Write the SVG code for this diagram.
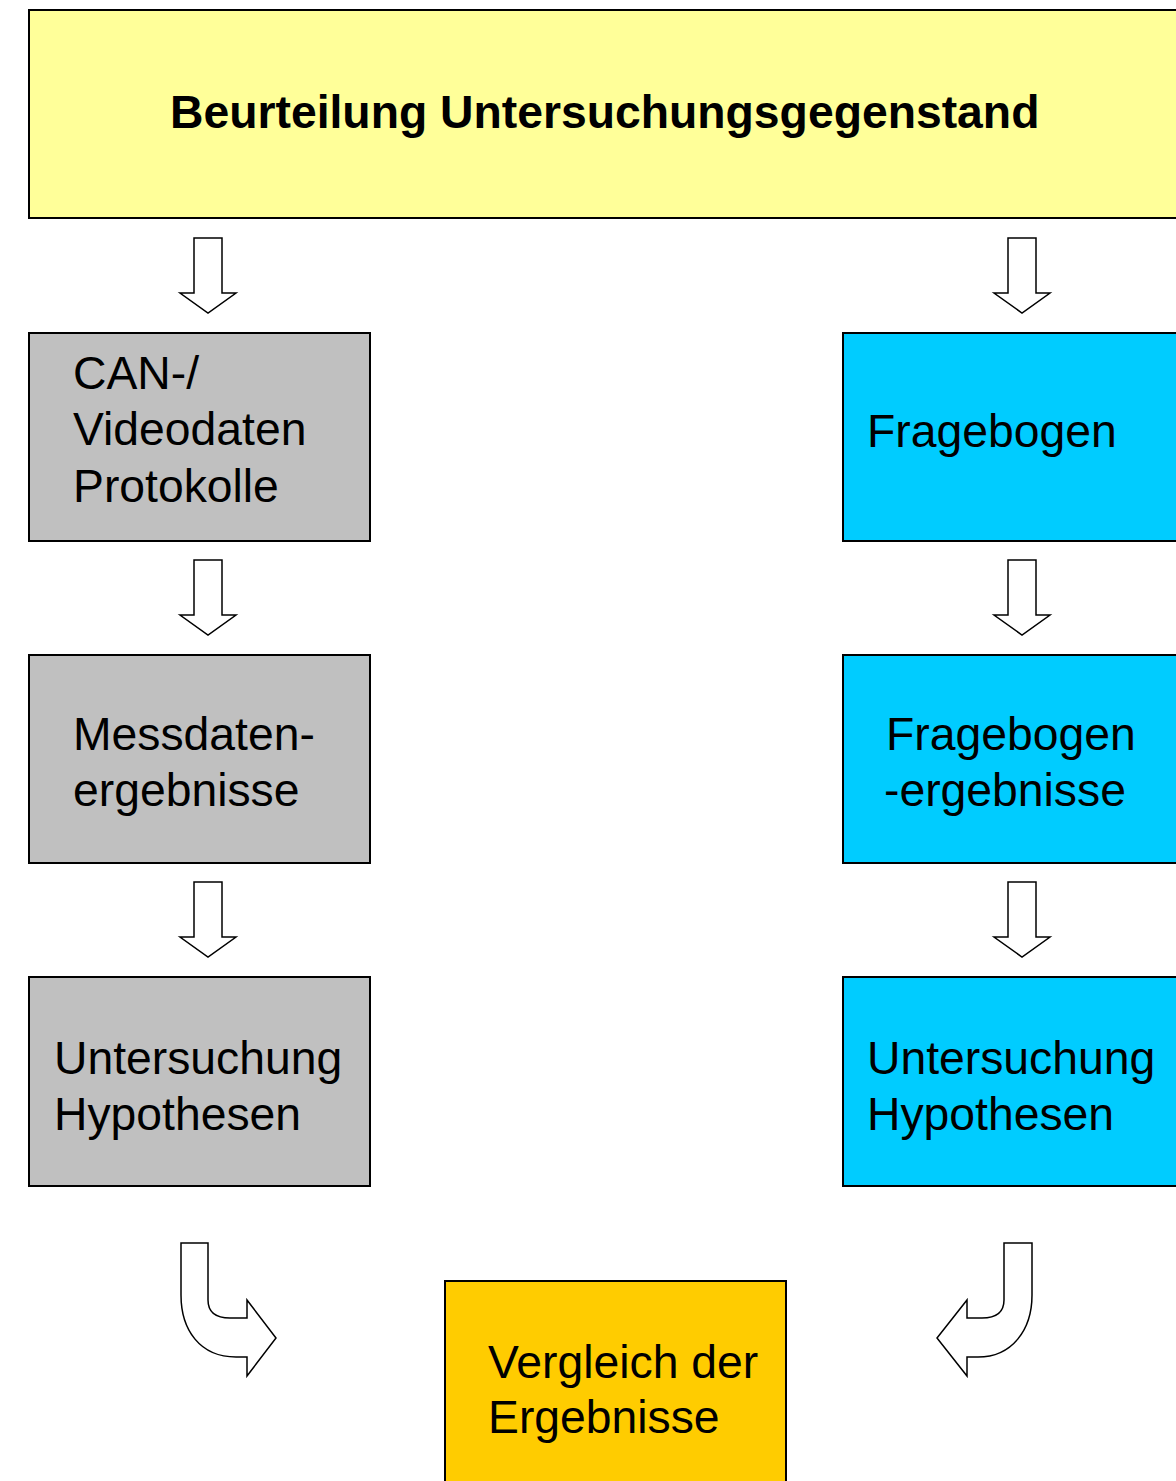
<svg xmlns="http://www.w3.org/2000/svg" width="1176" height="1481" viewBox="0 0 1176 1481">
<style>
.box{stroke:#000;stroke-width:2}
.t{font-family:"Liberation Sans",Arial,sans-serif;font-size:46.3px;fill:#000}
.arr{fill:#fff;stroke:#000;stroke-width:1.5;stroke-linejoin:miter}
</style>
<defs>
<path id="down" class="arr" d="M-14,0 L14,0 L14,55 L28,55 L0,75 L-28,55 L-14,55 Z"/>
</defs>
<rect width="1176" height="1481" fill="#fff"/>
<g id="top">
<rect class="box" x="29" y="10" width="1160" height="208" fill="#FFFF99"/>
<text class="t" x="170" y="128" font-weight="bold" font-size="46.8">Beurteilung Untersuchungsgegenstand</text>
</g>
<g id="can">
<rect class="box" x="29" y="333" width="341" height="208" fill="#C0C0C0"/>
<text class="t" x="73" y="389">CAN-/</text>
<text class="t" x="73" y="445">Videodaten</text>
<text class="t" x="73" y="502">Protokolle</text>
</g>
<g id="frage">
<rect class="box" x="843" y="333" width="340" height="208" fill="#00CCFF"/>
<text class="t" x="867" y="447">Fragebogen</text>
</g>
<g id="mess">
<rect class="box" x="29" y="655" width="341" height="208" fill="#C0C0C0"/>
<text class="t" x="73" y="750">Messdaten-</text>
<text class="t" x="73" y="806">ergebnisse</text>
</g>
<g id="frageerg">
<rect class="box" x="843" y="655" width="340" height="208" fill="#00CCFF"/>
<text class="t" x="886" y="750">Fragebogen</text>
<text class="t" x="884" y="806">-ergebnisse</text>
</g>
<g id="unterL">
<rect class="box" x="29" y="977" width="341" height="209" fill="#C0C0C0"/>
<text class="t" x="54" y="1074">Untersuchung</text>
<text class="t" x="54" y="1130">Hypothesen</text>
</g>
<g id="unterR">
<rect class="box" x="843" y="977" width="340" height="209" fill="#00CCFF"/>
<text class="t" x="867" y="1074">Untersuchung</text>
<text class="t" x="867" y="1130">Hypothesen</text>
</g>
<g id="vergleich">
<rect class="box" x="445" y="1281" width="341" height="210" fill="#FFCC00"/>
<text class="t" x="488" y="1378">Vergleich der</text>
<text class="t" x="488" y="1433">Ergebnisse</text>
</g>
<g id="connectors">
<use href="#down" x="208" y="238"/>
<use href="#down" x="208" y="560"/>
<use href="#down" x="208" y="882"/>
<use href="#down" x="1022" y="238"/>
<use href="#down" x="1022" y="560"/>
<use href="#down" x="1022" y="882"/>
<path class="arr" d="M181,1243 L208,1243 L208,1300 C208,1312 216,1318 230,1318 L247,1318 L247,1300 L276,1338 L247,1376 L247,1357 L236,1357 C200,1357 181,1330 181,1295 Z"/>
<path class="arr" d="M1032,1243 L1004,1243 L1004,1300 C1004,1312 996,1318 982,1318 L967,1318 L967,1300 L937,1338 L967,1376 L967,1357 L978,1357 C1012,1357 1032,1330 1032,1295 Z"/>
</g>
</svg>
